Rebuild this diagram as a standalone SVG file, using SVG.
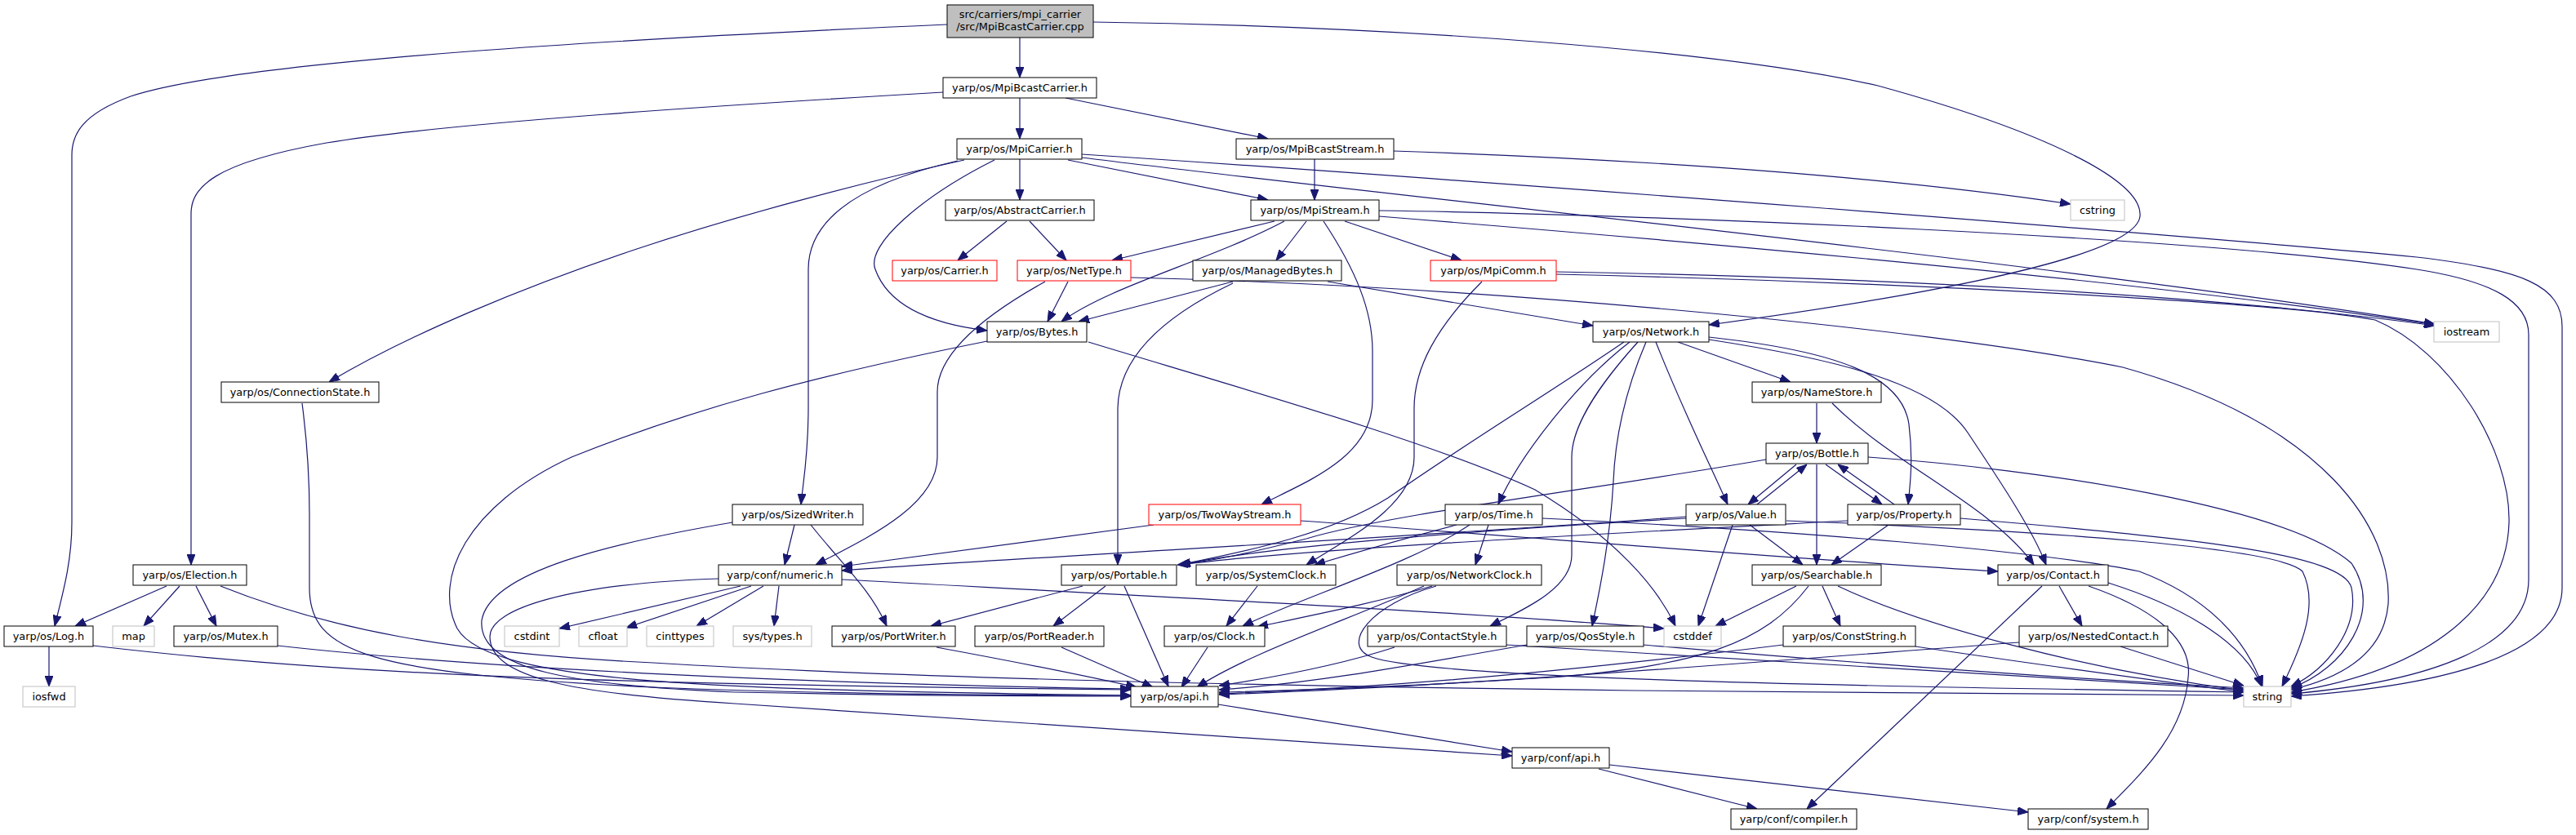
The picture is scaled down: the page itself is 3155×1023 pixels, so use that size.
<svg xmlns="http://www.w3.org/2000/svg" width="3155" height="1023" viewBox="0 0 3155 1023">
<style>
.n rect{fill:#fff;stroke:#000;stroke-width:1}
.r rect{stroke:#ff0000}
.g rect{stroke:#bfbfbf}
text{font-family:"DejaVu Sans","Liberation Sans",sans-serif;font-size:12.9px;text-anchor:middle;fill:#000}
#edges path{fill:none;stroke:#191970;stroke-width:1.2;marker-end:url(#a)}
</style>
<defs>
<marker id="a" markerUnits="userSpaceOnUse" markerWidth="13" markerHeight="10" refX="13" refY="5" orient="auto"><path d="M0,0 L13,5 L0,10 z" fill="#191970" stroke="#191970" stroke-width="1"/></marker>
</defs>
<rect width="3155" height="1023" fill="#fff"/>
<g id="edges">
<path d="M1249,46 L1249,95"/>
<path d="M1160,30 C800,46 300,72 160,118 C100,140 88,165 88,190 L88,640 C88,690 76,730 67,767"/>
<path d="M1339,27 C1700,32 2100,60 2300,105 C2500,160 2625,220 2621,265 C2615,320 2300,370 2093,398"/>
<path d="M1249,120 L1249,170"/>
<path d="M1305,120 L1553,170"/>
<path d="M1155,113 C900,128 550,150 400,175 C260,200 234,230 234,262 L234,692"/>
<path d="M1610,195 L1610,245"/>
<path d="M1707,185 C2000,195 2300,215 2536,250"/>
<path d="M1249,195 L1249,245"/>
<path d="M1308,196 L1553,245"/>
<path d="M1181,196 C1050,225 900,265 780,305 C640,352 500,410 403,468"/>
<path d="M1173,197 C1050,225 990,270 990,330 L990,500 C990,560 983,595 981,618"/>
<path d="M1218,196 C1130,240 1060,300 1072,330 C1090,380 1150,398 1209,405"/>
<path d="M1325,193 C1700,240 2500,320 2982,397"/>
<path d="M1325,189 C1800,220 2700,290 2960,315 C3090,330 3138,350 3138,400 L3138,720 C3138,800 3000,840 2806,853"/>
<path d="M1233,271 L1173,319"/>
<path d="M1261,271 L1306,319"/>
<path d="M1561,271 L1362,319"/>
<path d="M1573,271 C1480,320 1360,350 1300,394"/>
<path d="M1600,271 L1563,319"/>
<path d="M1647,271 L1790,319"/>
<path d="M1621,271 C1660,330 1681,380 1681,430 L1681,490 C1681,560 1600,590 1545,618"/>
<path d="M1689,265 C2000,290 2600,340 2982,398"/>
<path d="M1689,258 C2000,262 2700,290 2960,330 C3055,345 3097,370 3097,410 L3097,710 C3097,790 2980,835 2806,850"/>
<path d="M1308,345 L1283,394"/>
<path d="M1280,345 C1190,395 1148,440 1148,480 L1148,560 C1148,620 1060,660 999,692"/>
<path d="M1385,340 C1800,350 2350,400 2600,450 C2850,520 2930,650 2925,740 C2920,800 2870,830 2806,845"/>
<path d="M1510,345 L1321,394"/>
<path d="M1510,347 C1420,390 1370,440 1369,500 L1369,692"/>
<path d="M1626,345 L1951,399"/>
<path d="M1815,345 C1760,400 1732,450 1732,500 L1732,560 C1732,620 1650,660 1600,692"/>
<path d="M1906,333 C2300,340 2700,360 2982,399"/>
<path d="M1906,336 C2300,345 2800,370 2909,392 C3000,430 3075,550 3073,640 C3070,740 2980,820 2806,848"/>
<path d="M1209,418 C1000,460 850,500 700,560 C570,620 530,710 560,770 C600,840 900,845 1385,852"/>
<path d="M1333,419 C1500,470 1750,540 1880,600 C1980,660 2030,720 2052,767"/>
<path d="M370,494 C376,540 379,580 379,630 L379,720 C379,800 450,825 800,842 C1000,850 1200,852 1385,852"/>
<path d="M2055,419 L2193,468"/>
<path d="M2028,419 C2060,500 2090,560 2116,618"/>
<path d="M2016,419 C1990,480 1978,540 1976,590 C1972,660 1960,720 1950,767"/>
<path d="M2006,419 C1960,470 1925,520 1925,560 L1925,680 C1925,720 1870,745 1825,767"/>
<path d="M1996,419 C1930,470 1860,560 1835,618"/>
<path d="M1989,419 C1900,480 1800,540 1700,610 C1620,660 1500,680 1445,692"/>
<path d="M2093,413 C2250,430 2330,460 2338,520 C2343,560 2340,590 2337,618"/>
<path d="M2093,416 C2250,440 2370,470 2410,530 C2450,590 2490,650 2506,692"/>
<path d="M2225,494 L2225,543"/>
<path d="M2244,494 C2320,570 2440,620 2491,692"/>
<path d="M2200,569 L2141,618"/>
<path d="M2152,618 L2213,569"/>
<path d="M2236,569 L2305,618"/>
<path d="M2320,618 L2251,569"/>
<path d="M2225,569 L2225,692"/>
<path d="M2163,563 C1950,600 1700,630 1600,660 C1520,680 1480,688 1442,692"/>
<path d="M2288,560 C2500,575 2800,620 2880,690 C2920,750 2870,820 2806,843"/>
<path d="M2143,643 L2208,692"/>
<path d="M2313,643 L2243,692"/>
<path d="M2122,643 L2080,767"/>
<path d="M2065,635 C1800,650 1550,670 1445,692"/>
<path d="M2065,633 C1700,660 1300,680 1031,699"/>
<path d="M2188,638 C2500,650 2790,670 2820,700 C2840,740 2820,790 2795,841"/>
<path d="M2263,638 C2000,652 1600,672 1445,692"/>
<path d="M2401,635 C2700,660 2870,680 2880,720 C2890,770 2850,820 2806,841"/>
<path d="M1823,643 L1807,692"/>
<path d="M1784,643 C1700,665 1650,680 1610,692"/>
<path d="M1800,643 C1730,690 1600,730 1522,767"/>
<path d="M1889,635 C2200,650 2500,675 2620,700 C2700,730 2750,780 2771,841"/>
<path d="M1413,643 L1031,694"/>
<path d="M1593,638 C1900,660 2200,685 2447,700"/>
<path d="M973,643 L961,692"/>
<path d="M993,643 C1030,690 1065,720 1086,767"/>
<path d="M897,640 C750,665 600,700 590,760 C585,820 700,840 900,848 C1100,852 1250,853 1385,853"/>
<path d="M204,718 L92,767"/>
<path d="M220,718 L176,767"/>
<path d="M240,718 L265,767"/>
<path d="M270,718 C400,770 550,800 800,812 C1100,830 1500,840 2000,846 C2400,850 2600,851 2748,852"/>
<path d="M60,792 L60,841"/>
<path d="M114,791 C400,825 700,838 1385,845"/>
<path d="M340,791 C600,820 1000,838 1385,844"/>
<path d="M907,718 L685,770"/>
<path d="M920,718 L767,769"/>
<path d="M935,718 L853,767"/>
<path d="M954,718 L948,767"/>
<path d="M1031,710 C1400,730 1800,750 2038,770"/>
<path d="M880,709 C700,715 600,745 600,780 C600,830 700,850 900,862 C1300,890 1600,910 1852,926"/>
<path d="M1326,718 L1140,767"/>
<path d="M1354,718 L1290,767"/>
<path d="M1377,718 L1431,841"/>
<path d="M1147,793 C1250,812 1330,828 1392,842"/>
<path d="M1300,793 L1412,842"/>
<path d="M1479,793 L1447,842"/>
<path d="M1744,718 C1650,760 1530,800 1466,842"/>
<path d="M1754,718 C1680,740 1600,755 1540,768"/>
<path d="M1540,718 L1502,767"/>
<path d="M1759,718 C1680,740 1640,790 1680,805 C1750,830 2200,840 2748,848"/>
<path d="M1708,793 C1640,815 1560,830 1493,840"/>
<path d="M1845,790 C2200,810 2500,830 2748,845"/>
<path d="M1870,790 C1700,820 1600,838 1493,845"/>
<path d="M2013,790 C2300,815 2550,832 2748,843"/>
<path d="M2200,718 L2101,767"/>
<path d="M2232,718 L2254,767"/>
<path d="M2215,718 C2160,790 2080,815 1900,830 C1700,842 1600,846 1493,848"/>
<path d="M2251,718 C2350,765 2550,820 2748,846"/>
<path d="M2184,790 C1900,825 1700,842 1493,850"/>
<path d="M2346,792 C2500,815 2650,835 2748,848"/>
<path d="M2522,718 L2550,767"/>
<path d="M2582,714 C2680,745 2750,790 2770,841"/>
<path d="M2501,718 L2213,991"/>
<path d="M2558,718 C2650,750 2685,790 2680,830 C2675,900 2620,950 2580,991"/>
<path d="M2473,787 C2100,815 1800,840 1493,851"/>
<path d="M2597,792 L2748,840"/>
<path d="M1492,863 L1852,921"/>
<path d="M1958,942 L2152,991"/>
<path d="M1971,937 L2484,995"/>
</g>
<g id="root" class="n"><rect x="1160" y="6" width="179" height="40" style="fill:#bfbfbf"/><text x="1249.5" y="22">src/carriers/mpi_carrier</text><text x="1249.5" y="37">/src/MpiBcastCarrier.cpp</text></g>
<g id="MpiBcastCarrier" class="n"><rect x="1155" y="95" width="188" height="25"/><text x="1249" y="112">yarp/os/MpiBcastCarrier.h</text></g>
<g id="MpiCarrier" class="n"><rect x="1172" y="170" width="153" height="25"/><text x="1248.5" y="187">yarp/os/MpiCarrier.h</text></g>
<g id="MpiBcastStream" class="n"><rect x="1514" y="170" width="193" height="25"/><text x="1610.5" y="187">yarp/os/MpiBcastStream.h</text></g>
<g id="AbstractCarrier" class="n"><rect x="1158" y="245" width="182" height="25"/><text x="1249" y="262">yarp/os/AbstractCarrier.h</text></g>
<g id="MpiStream" class="n"><rect x="1532" y="245" width="157" height="25"/><text x="1610.5" y="262">yarp/os/MpiStream.h</text></g>
<g id="cstring" class="n g"><rect x="2536" y="245" width="66" height="25"/><text x="2569" y="262">cstring</text></g>
<g id="Carrier" class="n r"><rect x="1093" y="319" width="128" height="25"/><text x="1157" y="336">yarp/os/Carrier.h</text></g>
<g id="NetType" class="n r"><rect x="1246" y="319" width="139" height="25"/><text x="1315.5" y="336">yarp/os/NetType.h</text></g>
<g id="ManagedBytes" class="n"><rect x="1461" y="319" width="182" height="25"/><text x="1552" y="336">yarp/os/ManagedBytes.h</text></g>
<g id="MpiComm" class="n r"><rect x="1752" y="319" width="154" height="25"/><text x="1829" y="336">yarp/os/MpiComm.h</text></g>
<g id="Bytes" class="n"><rect x="1209" y="394" width="122" height="25"/><text x="1270" y="411">yarp/os/Bytes.h</text></g>
<g id="Network" class="n"><rect x="1951" y="394" width="142" height="25"/><text x="2022" y="411">yarp/os/Network.h</text></g>
<g id="iostream" class="n g"><rect x="2981" y="394" width="80" height="25"/><text x="3021" y="411">iostream</text></g>
<g id="ConnectionState" class="n"><rect x="271" y="468" width="193" height="25"/><text x="367.5" y="485">yarp/os/ConnectionState.h</text></g>
<g id="NameStore" class="n"><rect x="2146" y="468" width="158" height="25"/><text x="2225" y="485">yarp/os/NameStore.h</text></g>
<g id="Bottle" class="n"><rect x="2163" y="543" width="125" height="25"/><text x="2225.5" y="560">yarp/os/Bottle.h</text></g>
<g id="SizedWriter" class="n"><rect x="897" y="618" width="160" height="25"/><text x="977" y="635">yarp/os/SizedWriter.h</text></g>
<g id="TwoWayStream" class="n r"><rect x="1407" y="618" width="186" height="25"/><text x="1500" y="635">yarp/os/TwoWayStream.h</text></g>
<g id="Time" class="n"><rect x="1770" y="618" width="119" height="25"/><text x="1829.5" y="635">yarp/os/Time.h</text></g>
<g id="Value" class="n"><rect x="2065" y="618" width="122" height="25"/><text x="2126" y="635">yarp/os/Value.h</text></g>
<g id="Property" class="n"><rect x="2263" y="618" width="138" height="25"/><text x="2332" y="635">yarp/os/Property.h</text></g>
<g id="Election" class="n"><rect x="163" y="692" width="139" height="25"/><text x="232.5" y="709">yarp/os/Election.h</text></g>
<g id="numeric" class="n"><rect x="880" y="692" width="151" height="25"/><text x="955.5" y="709">yarp/conf/numeric.h</text></g>
<g id="Portable" class="n"><rect x="1300" y="692" width="141" height="25"/><text x="1370.5" y="709">yarp/os/Portable.h</text></g>
<g id="SystemClock" class="n"><rect x="1465" y="692" width="171" height="25"/><text x="1550.5" y="709">yarp/os/SystemClock.h</text></g>
<g id="NetworkClock" class="n"><rect x="1711" y="692" width="177" height="25"/><text x="1799.5" y="709">yarp/os/NetworkClock.h</text></g>
<g id="Searchable" class="n"><rect x="2146" y="692" width="158" height="25"/><text x="2225" y="709">yarp/os/Searchable.h</text></g>
<g id="Contact" class="n"><rect x="2447" y="692" width="135" height="25"/><text x="2514.5" y="709">yarp/os/Contact.h</text></g>
<g id="Log" class="n"><rect x="5" y="767" width="109" height="25"/><text x="59.5" y="784">yarp/os/Log.h</text></g>
<g id="map" class="n g"><rect x="138" y="767" width="51" height="25"/><text x="163.5" y="784">map</text></g>
<g id="Mutex" class="n"><rect x="213" y="767" width="127" height="25"/><text x="276.5" y="784">yarp/os/Mutex.h</text></g>
<g id="cstdint" class="n g"><rect x="618" y="767" width="67" height="25"/><text x="651.5" y="784">cstdint</text></g>
<g id="cfloat" class="n g"><rect x="709" y="767" width="59" height="25"/><text x="738.5" y="784">cfloat</text></g>
<g id="cinttypes" class="n g"><rect x="792" y="767" width="82" height="25"/><text x="833" y="784">cinttypes</text></g>
<g id="systypes" class="n g"><rect x="898" y="767" width="96" height="25"/><text x="946" y="784">sys/types.h</text></g>
<g id="PortWriter" class="n"><rect x="1019" y="767" width="151" height="25"/><text x="1094.5" y="784">yarp/os/PortWriter.h</text></g>
<g id="PortReader" class="n"><rect x="1194" y="767" width="158" height="25"/><text x="1273" y="784">yarp/os/PortReader.h</text></g>
<g id="Clock" class="n"><rect x="1426" y="767" width="123" height="25"/><text x="1487.5" y="784">yarp/os/Clock.h</text></g>
<g id="ContactStyle" class="n"><rect x="1675" y="767" width="170" height="25"/><text x="1760" y="784">yarp/os/ContactStyle.h</text></g>
<g id="QosStyle" class="n"><rect x="1870" y="767" width="143" height="25"/><text x="1941.5" y="784">yarp/os/QosStyle.h</text></g>
<g id="cstddef" class="n g"><rect x="2038" y="767" width="70" height="25"/><text x="2073" y="784">cstddef</text></g>
<g id="ConstString" class="n"><rect x="2184" y="767" width="162" height="25"/><text x="2265" y="784">yarp/os/ConstString.h</text></g>
<g id="NestedContact" class="n"><rect x="2473" y="767" width="182" height="25"/><text x="2564" y="784">yarp/os/NestedContact.h</text></g>
<g id="iosfwd" class="n g"><rect x="28" y="841" width="64" height="25"/><text x="60" y="858">iosfwd</text></g>
<g id="osapi" class="n"><rect x="1385" y="841" width="107" height="25"/><text x="1438.5" y="858">yarp/os/api.h</text></g>
<g id="string" class="n g"><rect x="2748" y="841" width="58" height="25"/><text x="2777" y="858">string</text></g>
<g id="confapi" class="n"><rect x="1852" y="916" width="119" height="25"/><text x="1911.5" y="933">yarp/conf/api.h</text></g>
<g id="compiler" class="n"><rect x="2120" y="991" width="154" height="25"/><text x="2197" y="1008">yarp/conf/compiler.h</text></g>
<g id="system" class="n"><rect x="2484" y="991" width="147" height="25"/><text x="2557.5" y="1008">yarp/conf/system.h</text></g>
</svg>
